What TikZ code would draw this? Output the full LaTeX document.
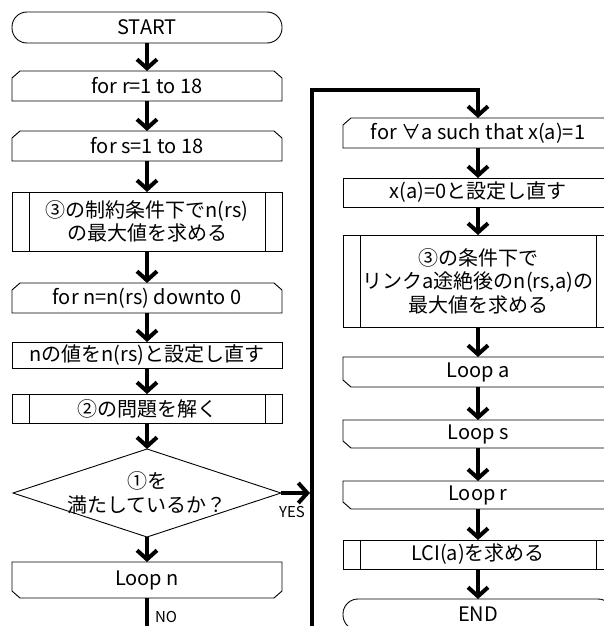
\documentclass[tikz,border=0pt]{standalone}
\usepackage{fontspec}
\setmainfont{Noto Sans CJK JP}
\usetikzlibrary{arrows.meta}
\newcommand\loopbeg[1]{\draw[outline] ([xshift=8pt]#1.north west) -- ([xshift=-8pt]#1.north east) -- ([yshift=-7pt]#1.north east) -- (#1.south east) -- (#1.south west) -- ([yshift=-7pt]#1.north west) -- cycle;}
\newcommand\loopfin[1]{\draw[outline] (#1.north west) -- (#1.north east) -- ([yshift=7pt]#1.south east) -- ([xshift=-8pt]#1.south east) -- ([xshift=8pt]#1.south west) -- ([yshift=7pt]#1.south west) -- cycle;}
\newcommand\predefbox[1]{\draw[outline] (#1.north west) rectangle (#1.south east); \draw[outline] ([xshift=17pt]#1.north west) -- ([xshift=17pt]#1.south west) ([xshift=-17pt]#1.north east) -- ([xshift=-17pt]#1.south east);}
\newcommand\plainbox[1]{\draw[outline] (#1.north west) rectangle (#1.south east);}
\begin{document}
\begin{tikzpicture}[x=1pt,y=-1pt,
  box/.style={minimum width=270pt, inner sep=0pt, outer sep=0pt, align=center, font=\fontsize{20pt}{23.5pt}\selectfont},
  outline/.style={line width=0.9pt, line join=miter},
  term/.style={box, draw, line width=0.9pt, rounded corners=15pt},
  arr/.style={line width=4pt, line join=miter, -{Straight Barb[length=9pt,width=20pt]}},
  thickline/.style={line width=4pt},
  lbl/.style={inner sep=0pt, font=\fontsize{15pt}{18pt}\selectfont}]
\useasboundingbox (0,0) rectangle (604,626);
\clip (0,0) rectangle (604,626);
\fill[white] (0,0) rectangle (604,626);
% left column
\node[term, minimum height=31pt] (start) at (147,27.5) {START};
\node[box, minimum height=30pt] (forr) at (147,86) {for r=1 to 18};
\node[box, minimum height=30pt] (fors) at (147,146) {for s=1 to 18};
\node[box, minimum height=59pt] (pthree) at (147,221.5) {③の制約条件下でn(rs)\\の最大値を求める};
\node[box, minimum height=30pt] (forn) at (147,298) {for n=n(rs) downto 0};
\node[box, minimum height=26pt] (setn) at (147,355) {nの値をn(rs)と設定し直す};
\node[box, minimum height=29pt] (ptwo) at (147,408.5) {②の問題を解く};
\node[box, minimum width=268pt, minimum height=88pt] (dia) at (147,493) {①を\\満たしているか？};
\node[box, minimum height=36pt] (loopn) at (147,580) {Loop n};
\loopbeg{forr}
\loopbeg{fors}
\predefbox{pthree}
\loopbeg{forn}
\plainbox{setn}
\predefbox{ptwo}
\draw[outline] (dia.north) -- (dia.east) -- (dia.south) -- (dia.west) -- cycle;
\loopfin{loopn}
% right column
\node[box, minimum height=30pt] (fora) at (478,133) {for ∀a such that x(a)=1};
\node[box, minimum height=29pt] (xa) at (478,192.5) {x(a)=0と設定し直す};
\node[box, minimum height=92pt] (pthreer) at (478,281) {③の条件下で\\リンクa途絶後のn(rs,a)の\\最大値を求める};
\node[box, minimum height=30pt] (loopa) at (478,372) {Loop a};
\node[box, minimum height=28pt] (loops) at (478,434) {Loop s};
\node[box, minimum height=28pt] (loopr) at (478,495) {Loop r};
\node[box, minimum height=29pt] (lci) at (478,554.5) {LCI(a)を求める};
\node[term, minimum height=31pt] (endn) at (478,614.5) {END};
\loopbeg{fora}
\plainbox{xa}
\predefbox{pthreer}
\loopfin{loopa}
\loopfin{loops}
\loopfin{loopr}
\predefbox{lci}
% connectors
\draw[arr] (start.south) -- (forr.north);
\draw[arr] (forr.south) -- (fors.north);
\draw[arr] (fors.south) -- (pthree.north);
\draw[arr] (pthree.south) -- (forn.north);
\draw[arr] (forn.south) -- (setn.north);
\draw[arr] (setn.south) -- (ptwo.north);
\draw[arr] (ptwo.south) -- (dia.north);
\draw[arr] (dia.south) -- (loopn.north);
\coordinate (nobot) at (147,632);
\draw[thickline] (loopn.south) -- (nobot);
\coordinate (yesend) at (310,493);
\draw[arr] (dia.east) -- (yesend);
\coordinate (rbot) at (312,632);
\coordinate (rtop) at (312,90);
\draw[arr] (rbot) -- (rtop) -| (fora.north);
\draw[arr] (fora.south) -- (xa.north);
\draw[arr] (xa.south) -- (pthreer.north);
\draw[arr] (pthreer.south) -- (loopa.north);
\draw[arr] (loopa.south) -- (loops.north);
\draw[arr] (loops.south) -- (loopr.north);
\draw[arr] (loopr.south) -- (lci.north);
\draw[arr] (lci.south) -- (endn.north);
% labels
\node[lbl] (yes) at (292,512) {YES};
\node[lbl] (no) at (166,617) {NO};
\end{tikzpicture}
\end{document}
